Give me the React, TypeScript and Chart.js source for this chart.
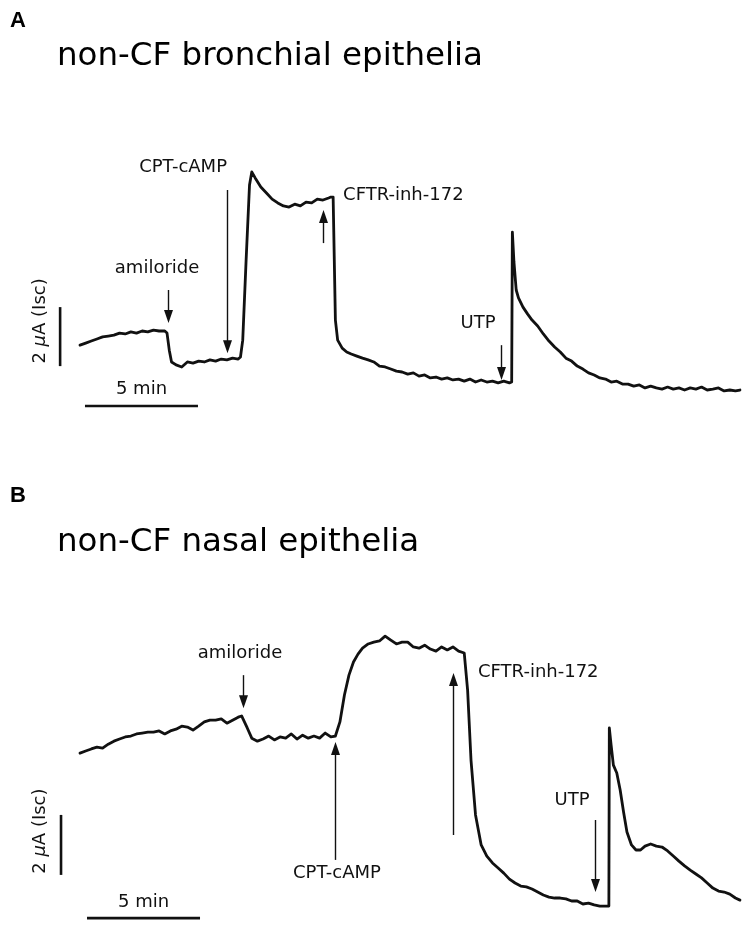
import React, { useEffect, useRef } from "react";
import { Chart, registerables } from "chart.js";

Chart.register(...registerables);

// ---------- Panel A: non-CF bronchial epithelia (time in min, Isc in µA) ----------
const timeA = [
  0, 0.25, 0.5, 0.75, 1.0, 1.25, 1.5, 1.75, 2.0, 2.25, 2.5, 2.75, 3.0, 3.25, 3.5, 3.75, 3.85, 3.95,
  4.05, 4.25, 4.5, 4.75, 5.0, 5.25, 5.5, 5.75, 6.0, 6.25, 6.5, 6.75, 7.0, 7.1, 7.2, 7.35, 7.5, 7.6,
  7.75, 8.0, 8.25, 8.5, 8.75, 9.0, 9.25, 9.5, 9.75, 10.0, 10.25, 10.5, 10.75, 11.0, 11.1, 11.2, 11.3,
  11.4, 11.6, 11.8, 12.0, 12.25, 12.5, 12.75, 13.0, 13.25, 13.5, 13.75, 14.0, 14.25, 14.5, 14.75,
  15.0, 15.25, 15.5, 15.75, 16.0, 16.25, 16.5, 16.75, 17.0, 17.25, 17.5, 17.75, 18.0, 18.25, 18.5,
  18.75, 19.0, 19.1, 19.13, 19.2, 19.3, 19.4, 19.6, 19.8, 20.0, 20.25, 20.5, 20.75, 21.0, 21.25,
  21.5, 21.75, 22.0, 22.25, 22.5, 22.75, 23.0, 23.25, 23.5, 23.75, 24.0, 24.25, 24.5, 24.75, 25.0,
  25.25, 25.5, 25.75, 26.0, 26.25, 26.5, 26.75, 27.0, 27.25, 27.5, 27.75, 28.0, 28.25, 28.5, 28.75,
  29.0, 29.2,
];
const currentA = [
  1.86, 1.93, 2.0, 2.07, 2.14, 2.17, 2.2, 2.27, 2.24, 2.31, 2.27, 2.34, 2.31, 2.37, 2.34, 2.34, 2.27,
  1.69, 1.29, 1.19, 1.12, 1.29, 1.25, 1.32, 1.29, 1.36, 1.32, 1.39, 1.36, 1.42, 1.39, 1.46, 2.03, 4.75,
  7.29, 7.73, 7.53, 7.22, 7.02, 6.81, 6.68, 6.58, 6.54, 6.64, 6.58, 6.71, 6.68, 6.81, 6.78, 6.85, 6.88,
  6.88, 2.71, 2.03, 1.76, 1.63, 1.56, 1.49, 1.42, 1.36, 1.29, 1.15, 1.12, 1.05, 0.98, 0.95, 0.88, 0.92,
  0.81, 0.85, 0.75, 0.78, 0.71, 0.75, 0.68, 0.71, 0.64, 0.71, 0.61, 0.68, 0.61, 0.64, 0.58, 0.64, 0.58,
  0.61, 5.69, 4.68, 3.73, 3.46, 3.15, 2.92, 2.71, 2.51, 2.24, 2.0, 1.8, 1.63, 1.42, 1.32, 1.15, 1.05,
  0.92, 0.85, 0.75, 0.71, 0.61, 0.64, 0.54, 0.54, 0.47, 0.51, 0.41, 0.47, 0.41, 0.37, 0.44, 0.37, 0.41,
  0.34, 0.41, 0.37, 0.44, 0.34, 0.37, 0.41, 0.31, 0.34, 0.31, 0.34,
];

// ---------- Panel B: non-CF nasal epithelia ----------
const timeB = [
  0, 0.25, 0.5, 0.75, 1.0, 1.25, 1.5, 1.75, 2.0, 2.25, 2.5, 2.75, 3.0, 3.25, 3.5, 3.75, 4.0, 4.25,
  4.5, 4.75, 5.0, 5.25, 5.5, 5.75, 6.0, 6.25, 6.5, 6.75, 7.0, 7.15, 7.4, 7.6, 7.85, 8.1, 8.35, 8.6,
  8.85, 9.1, 9.35, 9.6, 9.85, 10.1, 10.35, 10.6, 10.85, 11.1, 11.3, 11.5, 11.7, 11.9, 12.1, 12.3,
  12.5, 12.75, 13.0, 13.25, 13.5, 13.75, 14.0, 14.25, 14.5, 14.75, 15.0, 15.25, 15.5, 15.75, 16.0,
  16.25, 16.5, 16.75, 17.0, 17.15, 17.3, 17.5, 17.75, 18.0, 18.25, 18.5, 18.75, 19.0, 19.25, 19.5,
  19.75, 20.0, 20.25, 20.5, 20.75, 21.0, 21.25, 21.5, 21.75, 22.0, 22.25, 22.5, 22.75, 23.0, 23.25,
  23.4, 23.42, 23.5, 23.6, 23.75, 23.9, 24.05, 24.2, 24.4, 24.6, 24.8, 25.0, 25.25, 25.5, 25.75,
  26.0, 26.25, 26.5, 26.75, 27.0, 27.25, 27.5, 27.75, 28.0, 28.25, 28.5, 28.75, 29.0, 29.2,
];
const currentB = [
  5.23, 5.3, 5.37, 5.43, 5.4, 5.53, 5.63, 5.7, 5.77, 5.8, 5.87, 5.9, 5.93, 5.93, 5.97, 5.87, 5.97,
  6.03, 6.13, 6.1, 6.0, 6.13, 6.27, 6.33, 6.33, 6.37, 6.23, 6.33, 6.43, 6.47, 6.07, 5.73, 5.63, 5.7,
  5.8, 5.67, 5.77, 5.73, 5.87, 5.7, 5.83, 5.73, 5.8, 5.73, 5.9, 5.77, 5.8, 6.27, 7.17, 7.83, 8.27,
  8.53, 8.73, 8.87, 8.93, 8.97, 9.13, 9.0, 8.87, 8.93, 8.93, 8.77, 8.73, 8.83, 8.7, 8.63, 8.77, 8.67,
  8.77, 8.63, 8.57, 7.33, 5.0, 3.17, 2.17, 1.8, 1.57, 1.4, 1.23, 1.03, 0.9, 0.8, 0.77, 0.7, 0.6, 0.5,
  0.43, 0.4, 0.4, 0.37, 0.3, 0.3, 0.2, 0.23, 0.17, 0.13, 0.13, 0.13, 6.07, 5.5, 4.83, 4.57, 4.0, 3.27,
  2.6, 2.17, 2.0, 2.0, 2.13, 2.2, 2.13, 2.1, 1.97, 1.8, 1.63, 1.47, 1.33, 1.2, 1.07, 0.9, 0.73, 0.63,
  0.6, 0.53, 0.4, 0.33,
];

// visible window of each panel (min, µA)
const xRangeA = [-3.54, 29.91];
const yRangeA = [-2.27, 13.56];
const xRangeB = [-3.54, 29.91];
const yRangeB = [-0.8, 14.77];

// drug additions: label anchor (t, i), arrow at time arrowT from current "from" to tip "to"
type Mark = { label: string; t: number; i: number; align: "left" | "center"; arrowT: number; from: number; to: number };
const marksA: Mark[] = [
  { label: "amiloride", t: 3.41, i: 4.47, align: "center", arrowT: 3.89, from: 3.73, to: 2.61 },
  { label: "CPT-cAMP", t: 4.56, i: 7.9, align: "center", arrowT: 6.5, from: 7.12, to: 1.59 },
  { label: "CFTR-inh-172", t: 11.64, i: 6.95, align: "left", arrowT: 10.75, from: 5.32, to: 6.44 },
  { label: "UTP", t: 17.61, i: 2.61, align: "center", arrowT: 18.63, from: 1.86, to: 0.68 },
];
const marksB: Mark[] = [
  { label: "amiloride", t: 7.08, i: 8.57, align: "center", arrowT: 7.21, from: 7.83, to: 6.73 },
  { label: "CPT-cAMP", t: 11.37, i: 1.23, align: "center", arrowT: 11.28, from: 1.67, to: 5.6 },
  { label: "CFTR-inh-172", t: 17.61, i: 7.93, align: "left", arrowT: 16.5, from: 2.5, to: 7.9 },
  { label: "UTP", t: 21.77, i: 3.67, align: "center", arrowT: 22.79, from: 3.0, to: 0.6 },
];

// scale bars: 5 min horizontal, 2 µA vertical
type Bars = { hStart: number; hLevel: number; hLabelI: number; vT: number; vStart: number; vLabelT: number; vLabelI: number };
const barsA: Bars = { hStart: 0.22, hLevel: -0.2, hLabelI: 0.37, vT: -0.88, vStart: 1.15, vLabelT: -1.77, vLabelI: 2.68 };
const barsB: Bars = { hStart: 0.31, hLevel: -0.27, hLabelI: 0.27, vT: -0.84, vStart: 1.17, vLabelT: -1.77, vLabelI: 2.63 };
const TIME_BAR = 5;
const CURRENT_BAR = 2;

const FONT = '"DejaVu Sans", Verdana, sans-serif';

function makeAnnoPlugin(marks: Mark[], bars: Bars) {
  return {
    id: "physioAnno",
    afterDatasetsDraw(chart: any) {
      const ctx: CanvasRenderingContext2D = chart.ctx;
      const xs = chart.scales.x;
      const ys = chart.scales.y;
      const px = (t: number) => xs.getPixelForValue(t);
      const py = (i: number) => ys.getPixelForValue(i);
      ctx.save();
      ctx.fillStyle = "#111";
      ctx.strokeStyle = "#111";
      ctx.font = `18px ${FONT}`;
      ctx.textBaseline = "middle";
      for (const m of marks) {
        ctx.textAlign = m.align;
        ctx.fillText(m.label, px(m.t), py(m.i));
        const x = Math.round(px(m.arrowT)) + 0.5;
        const y0 = py(m.from);
        const y1 = py(m.to);
        const dir = y1 > y0 ? 1 : -1;
        const headLen = 13;
        const headW = 4.5;
        ctx.lineWidth = 1.4;
        ctx.beginPath();
        ctx.moveTo(x, y0);
        ctx.lineTo(x, y1 - dir * headLen + dir * 2);
        ctx.stroke();
        ctx.beginPath();
        ctx.moveTo(x, y1);
        ctx.lineTo(x - headW, y1 - dir * headLen);
        ctx.lineTo(x + headW, y1 - dir * headLen);
        ctx.closePath();
        ctx.fill();
      }
      // horizontal time bar
      ctx.lineWidth = 2.6;
      ctx.beginPath();
      ctx.moveTo(px(bars.hStart), py(bars.hLevel));
      ctx.lineTo(px(bars.hStart + TIME_BAR), py(bars.hLevel));
      ctx.stroke();
      ctx.textAlign = "center";
      ctx.fillText("5 min", px(bars.hStart + TIME_BAR / 2), py(bars.hLabelI));
      // vertical current bar
      ctx.beginPath();
      ctx.moveTo(px(bars.vT), py(bars.vStart));
      ctx.lineTo(px(bars.vT), py(bars.vStart + CURRENT_BAR));
      ctx.stroke();
      // rotated label "2 µA (Isc)" with italic µ
      ctx.save();
      ctx.translate(px(bars.vLabelT), py(bars.vLabelI));
      ctx.rotate(-Math.PI / 2);
      const parts = [
        { s: "2 ", f: `18px ${FONT}` },
        { s: "\u03bc", f: `italic 18px ${FONT}` },
        { s: "A (Isc)", f: `18px ${FONT}` },
      ];
      let total = 0;
      for (const p of parts) {
        ctx.font = p.f;
        total += ctx.measureText(p.s).width;
      }
      let cx = -total / 2;
      ctx.textAlign = "left";
      for (const p of parts) {
        ctx.font = p.f;
        ctx.fillText(p.s, cx, 0);
        cx += ctx.measureText(p.s).width;
      }
      ctx.restore();
      ctx.restore();
    },
  };
}

function Trace(props: {
  time: number[];
  current: number[];
  xr: number[];
  yr: number[];
  marks: Mark[];
  bars: Bars;
  top: number;
  height: number;
}) {
  const ref = useRef<HTMLCanvasElement | null>(null);
  useEffect(() => {
    const canvas = ref.current;
    if (!canvas) return;
    const chart = new Chart(canvas, {
      type: "line",
      data: {
        datasets: [
          {
            data: props.time.map((t, k) => ({ x: t, y: props.current[k] })),
            borderColor: "#111",
            borderWidth: 2.8,
            pointRadius: 0,
            tension: 0,
            fill: false,
            borderJoinStyle: "round",
            borderCapStyle: "round",
          },
        ],
      },
      options: {
        animation: false,
        responsive: false,
        maintainAspectRatio: false,
        devicePixelRatio: 1,
        events: [],
        layout: { padding: 0 },
        plugins: { legend: { display: false }, tooltip: { enabled: false }, title: { display: false } },
        scales: {
          x: { type: "linear", min: props.xr[0], max: props.xr[1], display: false },
          y: { type: "linear", min: props.yr[0], max: props.yr[1], display: false },
        },
      } as any,
      plugins: [makeAnnoPlugin(props.marks, props.bars)],
    });
    return () => chart.destroy();
  }, []);
  return (
    <canvas
      ref={ref}
      width={756}
      height={props.height}
      style={{ position: "absolute", left: 0, top: props.top, width: 756, height: props.height }}
    />
  );
}

const letterStyle: React.CSSProperties = {
  position: "absolute",
  left: 10,
  font: 'bold 22px "Liberation Sans", Arial, sans-serif',
  lineHeight: "22px",
  color: "#000",
  whiteSpace: "nowrap",
};
const titleStyle: React.CSSProperties = {
  position: "absolute",
  left: 57,
  font: `32.5px ${FONT}`,
  lineHeight: "32px",
  color: "#000",
  whiteSpace: "nowrap",
};

export default function App() {
  return (
    <div style={{ position: "absolute", left: 0, top: 0, width: 756, height: 934, background: "#fff", overflow: "hidden" }}>
      <Trace time={timeA} current={currentA} xr={xRangeA} yr={yRangeA} marks={marksA} bars={barsA} top={0} height={467} />
      <Trace time={timeB} current={currentB} xr={xRangeB} yr={yRangeB} marks={marksB} bars={barsB} top={467} height={467} />
      <div style={{ ...letterStyle, top: 9 }}>A</div>
      <div style={{ ...titleStyle, top: 38 }}>non-CF bronchial epithelia</div>
      <div style={{ ...letterStyle, top: 484 }}>B</div>
      <div style={{ ...titleStyle, top: 524 }}>non-CF nasal epithelia</div>
    </div>
  );
}
